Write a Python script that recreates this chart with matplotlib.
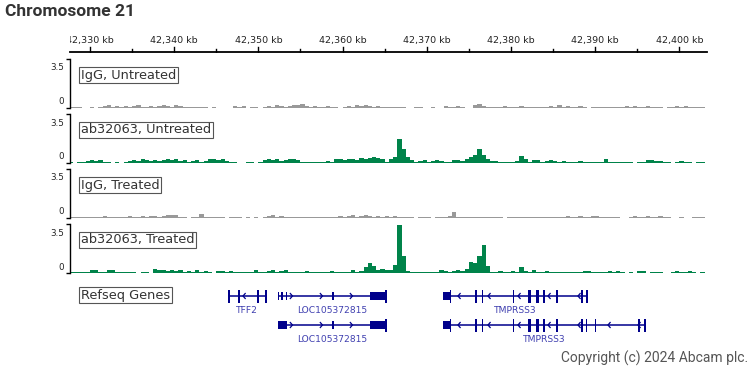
import matplotlib.pyplot as plt

# coverage bins (0.5 kb each) starting at 42,327.5 kb
bin_start = 42327.5
bin_kb = 0.5

igg_untreated = [
    0.07, 0.07, 0.07, 0, 0, 0.07, 0, 0.1, 0.15, 0.2,
    0.1, 0.15, 0.1, 0.15, 0.1, 0.15, 0.2, 0.1, 0.1, 0.15,
    0.1, 0.15, 0.2, 0.15, 0.1, 0.25, 0.15, 0.1, 0.07, 0.1,
    0.1, 0.07, 0.1, 0, 0.07, 0, 0, 0, 0, 0.15,
    0.1, 0.15, 0, 0.1, 0.07, 0, 0.1, 0.15, 0.1, 0.2,
    0.15, 0.1, 0.15, 0.2, 0.25, 0.3, 0.15, 0.1, 0.15, 0.1,
    0.1, 0.15, 0.07, 0.1, 0, 0.1, 0.15, 0.1, 0.2, 0.15,
    0.2, 0.15, 0.1, 0.15, 0.1, 0.07, 0.1, 0.1, 0.07, 0.07,
    0, 0, 0.07, 0.07, 0, 0, 0.07, 0, 0, 0.15,
    0.1, 0.07, 0.15, 0.1, 0, 0, 0.2, 0.3, 0.15, 0.07,
    0.07, 0.1, 0.07, 0.15, 0.1, 0.07, 0.1, 0.15, 0.07, 0.1,
    0.07, 0.1, 0.1, 0.1, 0.15, 0.1, 0.2, 0.1, 0.15, 0.07,
    0.1, 0.15, 0.1, 0, 0.07, 0.1, 0.07, 0.07, 0.1, 0.07,
    0.07, 0.1, 0.15, 0.1, 0.15, 0.1, 0.07, 0.15, 0.1, 0.07,
    0.07, 0, 0.07, 0.1, 0.15, 0.1, 0.15, 0.1, 0.07, 0.1, 0.07]

ab_untreated = [
    0.07, 0, 0.07, 0.07, 0.15, 0.2, 0.15, 0.2, 0.1, 0.07,
    0, 0.07, 0, 0.1, 0.15, 0.2, 0.15, 0.3, 0.2, 0.15,
    0.2, 0.15, 0.2, 0.25, 0.2, 0.25, 0.15, 0.2, 0.1, 0.15,
    0.2, 0.1, 0.15, 0.3, 0.25, 0.2, 0.25, 0.15, 0.1, 0.07,
    0, 0, 0.07, 0.07, 0, 0.1, 0.2, 0.3, 0.2, 0.25,
    0.15, 0.2, 0.25, 0.3, 0.2, 0.1, 0.07, 0.07, 0.1, 0.07,
    0.07, 0.15, 0.1, 0.3, 0.25, 0.2, 0.25, 0.3, 0.2, 0.35,
    0.3, 0.35, 0.4, 0.35, 0.25, 0.1, 0.3, 0.4, 1.7, 1.0,
    0.45, 0.2, 0.1, 0.15, 0.2, 0.07, 0.15, 0.2, 0.15, 0.1,
    0.07, 0.2, 0.2, 0.15, 0.25, 0.45, 0.6, 1.0, 0.6, 0.3,
    0.15, 0.15, 0.1, 0.07, 0.1, 0.07, 0.15, 0.5, 0.25, 0.07,
    0.2, 0.2, 0.07, 0.15, 0.2, 0.15, 0.1, 0.15, 0.07, 0.1,
    0.07, 0.15, 0.1, 0.07, 0.1, 0.07, 0.07, 0.3, 0.07, 0.07,
    0.1, 0.07, 0.07, 0.07, 0, 0.07, 0.07, 0.2, 0.2, 0.15,
    0.15, 0.07, 0.07, 0, 0.1, 0.15, 0.07, 0.07, 0, 0.1, 0.1]

igg_treated = [
    0.07, 0.07, 0.07, 0.07, 0.07, 0.1, 0.1, 0.1, 0.15, 0.07,
    0.1, 0.1, 0.07, 0.1, 0.15, 0.1, 0.1, 0.15, 0.1, 0.15,
    0.15, 0.1, 0.15, 0.2, 0.2, 0.2, 0.1, 0.07, 0, 0.1,
    0.1, 0.3, 0.1, 0.07, 0.1, 0.07, 0.07, 0, 0.07, 0.07,
    0.07, 0, 0.07, 0, 0.07, 0, 0.1, 0.15, 0.2, 0.1,
    0.15, 0.07, 0.07, 0.07, 0.07, 0.1, 0.07, 0.1, 0.07, 0.1,
    0.07, 0.07, 0.1, 0.1, 0.15, 0.1, 0.15, 0.2, 0.1, 0.15,
    0.25, 0.15, 0.1, 0.15, 0.1, 0.15, 0.1, 0.15, 0.1, 0.07,
    0.07, 0.07, 0, 0.07, 0.07, 0.07, 0, 0.1, 0.1, 0.1,
    0.15, 0.45, 0.1, 0.07, 0.07, 0.1, 0.07, 0.1, 0.07, 0.07,
    0.1, 0.1, 0.07, 0, 0.07, 0.1, 0.1, 0.1, 0.1, 0.1,
    0.1, 0.07, 0.07, 0.07, 0.1, 0.1, 0.07, 0.1, 0.15, 0.1,
    0.1, 0.15, 0.1, 0.07, 0.15, 0.15, 0.07, 0.07, 0.1, 0.1,
    0.07, 0, 0, 0.1, 0.15, 0.1, 0.1, 0.15, 0.1, 0.1,
    0.15, 0.1, 0.1, 0, 0, 0.07, 0, 0, 0.07, 0.07, 0.07]

ab_treated = [
    0.07, 0.07, 0.07, 0.07, 0.07, 0.2, 0.2, 0.07, 0.07, 0.2,
    0.2, 0.1, 0.1, 0.1, 0.07, 0.07, 0, 0.07, 0.07, 0,
    0.3, 0.25, 0.2, 0.15, 0.2, 0.15, 0.2, 0.1, 0.15, 0.1,
    0.2, 0.1, 0.15, 0.07, 0, 0.15, 0.15, 0.1, 0.15, 0.1,
    0.1, 0.07, 0.07, 0.1, 0.2, 0.07, 0.1, 0.15, 0.2, 0.1,
    0.15, 0.2, 0.1, 0.07, 0.1, 0.07, 0.15, 0.1, 0.07, 0.1,
    0.07, 0.1, 0.15, 0.07, 0.07, 0.07, 0.07, 0.2, 0.1, 0.15,
    0.4, 0.7, 0.5, 0.2, 0.3, 0.2, 0.25, 0.6, 3.45, 1.2,
    0.15, 0.1, 0.1, 0.07, 0.1, 0.07, 0.1, 0.1, 0.2, 0.15,
    0.1, 0.15, 0.2, 0.15, 0.3, 0.8, 0.75, 1.2, 2.0, 0.5,
    0.1, 0.1, 0.15, 0.1, 0.1, 0.15, 0.1, 0.4, 0.15, 0.07,
    0.2, 0.07, 0.07, 0.15, 0.1, 0.07, 0.1, 0.07, 0.1, 0.1,
    0.07, 0.1, 0.15, 0.15, 0.1, 0.07, 0.07, 0.1, 0.15, 0.1,
    0.15, 0.1, 0, 0.07, 0, 0.15, 0.15, 0, 0.1, 0.1,
    0.07, 0, 0, 0.07, 0.15, 0.07, 0.1, 0.15, 0.1, 0, 0.07]

track_names = ["IgG, Untreated", "ab32063, Untreated", "IgG, Treated", "ab32063, Treated"]
track_values = [igg_untreated, ab_untreated, igg_treated, ab_treated]
gray = "#999999"
green = "#00834a"
track_colors = [gray, green, gray, green]

ruler_major = [42330, 42340, 42350, 42360, 42370, 42380, 42390, 42400]
ruler_minor = [42335, 42345, 42355, 42365, 42375, 42385, 42395]

# refseq transcripts (kb); exon kind: 't' tall / 's' short block
gene_names = ["TFF2", "LOC105372815", "TMPRSS3", "LOC105372815", "TMPRSS3"]
gene_rows = [0, 0, 0, 1, 1]
gene_strands = ["-", "+", "-", "+", "-"]
gene_starts = [42346.39, 42352.27, 42371.92, 42352.27, 42371.92]
gene_ends = [42350.96, 42365.21, 42389.14, 42365.21, 42395.97]
gene_exons = [
    [(42346.39, 42346.57, "t"), (42347.52, 42347.76, "t"), (42349.89, 42350.07, "t"),
     (42350.84, 42350.96, "t")],
    [(42352.27, 42352.45, "s"), (42352.74, 42352.86, "s"), (42353.22, 42353.34, "s"),
     (42358.80, 42358.98, "s"), (42363.25, 42365.21, "s"), (42365.09, 42365.21, "t")],
    [(42371.92, 42372.70, "s"), (42372.70, 42372.87, "t"), (42375.78, 42375.96, "t"),
     (42376.50, 42376.67, "t"), (42380.18, 42380.36, "t"), (42382.02, 42382.32, "t"),
     (42382.97, 42383.27, "t"), (42383.86, 42384.04, "t"), (42385.40, 42385.58, "t"),
     (42388.37, 42388.55, "t"), (42388.91, 42389.14, "t")],
    [(42352.27, 42353.34, "s"), (42358.80, 42358.98, "s"), (42363.25, 42365.21, "s"),
     (42365.09, 42365.21, "t")],
    [(42371.92, 42372.70, "s"), (42372.70, 42372.87, "t"), (42375.78, 42375.96, "t"),
     (42376.50, 42376.67, "t"), (42380.18, 42380.36, "t"), (42382.02, 42382.32, "t"),
     (42382.97, 42383.27, "t"), (42383.86, 42384.04, "t"), (42385.40, 42385.58, "t"),
     (42388.37, 42388.55, "t"), (42388.85, 42389.03, "t"), (42389.92, 42390.10, "t"),
     (42395.14, 42395.32, "t"), (42395.85, 42395.97, "t")],
]

W, H = 756, 378
xmin, xmax = 42327.625, 42403.28
gene_col = "#00008b"
label_col = "#4040b0"
ymax = 3.5

fig = plt.figure(figsize=(W / 100, H / 100), dpi=100)


def px_axes(top, bottom, left=70, right=707):
    return fig.add_axes([left / W, (H - bottom) / H, (right - left) / W, (bottom - top) / H])


def boxed(ax, text, xy, dy):
    ax.annotate(text, xy=xy, xycoords="axes fraction", xytext=(11, dy),
                textcoords="offset pixels", ha="left", va="center", fontsize=9.3,
                color="#333333",
                bbox=dict(boxstyle="square,pad=0.12", fc="white", ec="#555555", lw=0.8))


# title
fig.text(5 / W, 1 - 12 / H, "Chromosome 21", fontsize=12.5, fontweight="bold",
         family="Roboto", color="#333333", va="center", ha="left")

# ruler
rax = px_axes(27.5, 52.5)
rax.set_xlim(xmin, xmax)
rax.set_ylim(0, 25)
rax.axis("off")
rax.axhline(0.5, color="black", lw=1.3, clip_on=False)
for m in ruler_major:
    rax.plot([m, m], [0, 6], color="black", lw=1)
    rax.text(m, 12.5, "{:,} kb".format(m), ha="center", va="center", fontsize=6.8,
             color="#222222", clip_on=True)
for m in ruler_minor:
    rax.plot([m, m], [0, 4], color="black", lw=1)

# coverage tracks
for k in range(4):
    top = 59 + 55 * k
    ax = px_axes(top, top + 49)
    vals = track_values[k]
    lefts = [bin_start + bin_kb * i for i in range(len(vals))]
    ax.bar(lefts, vals, width=bin_kb, align="edge", color=track_colors[k], linewidth=0)
    ax.set_xlim(xmin, xmax)
    ax.set_ylim(0, ymax)
    for s in ["top", "right", "bottom"]:
        ax.spines[s].set_visible(False)
    ax.spines["left"].set_linewidth(1)
    ax.set_xticks([])
    ax.set_yticks([0, ymax])
    ax.set_yticklabels([])
    ax.tick_params(axis="y", length=3, width=1)
    ax.annotate("3.5", xy=(0, 1), xycoords="axes fraction", xytext=(-6, -9),
                textcoords="offset pixels", ha="right", va="center", fontsize=6.3, color="#222222")
    ax.annotate("0", xy=(0, 0), xycoords="axes fraction", xytext=(-6, 6),
                textcoords="offset pixels", ha="right", va="center", fontsize=6.3, color="#222222")
    boxed(ax, track_names[k], (0, 1), -16)

# refseq genes
gax = px_axes(283, 347)
gax.set_xlim(xmin, xmax)
gax.set_ylim(64, 0)
gax.axis("off")
boxed(gax, "Refseq Genes", (0, 1), -12)

row_y = [13, 42]
kb_px = 10 / 84.2
for name, row, strand, g0, g1, exons in zip(gene_names, gene_rows, gene_strands,
                                            gene_starts, gene_ends, gene_exons):
    y = row_y[row]
    gax.plot([g0, g1], [y, y], color=gene_col, lw=1.1, solid_capstyle="butt")
    # strand chevrons every 30 px
    a = g0 + 15 * kb_px
    while a < g1:
        dx = 2.2 * kb_px
        if strand == "+":
            gax.plot([a - dx, a, a - dx], [y - 2.5, y, y + 2.5], color=gene_col, lw=0.9)
        else:
            gax.plot([a + dx, a, a + dx], [y - 2.5, y, y + 2.5], color=gene_col, lw=0.9)
        a += 30 * kb_px
    for s, e, kind in exons:
        hh = 6.5 if kind == "t" else 4
        gax.bar(s, 2 * hh, width=max(e - s, 1.3 * kb_px), bottom=y - hh, align="edge",
                color=gene_col, linewidth=0, zorder=3)
    gax.text((g0 + g1) / 2, y + 14.5, name, ha="center", va="center", fontsize=6.6,
             color=label_col)

fig.text(748 / W, 1 - 358 / H, "Copyright (c) 2024 Abcam plc.", fontsize=10,
         family="Roboto", color="#555555", ha="right", va="center")

plt.savefig("out.png", dpi=100)
